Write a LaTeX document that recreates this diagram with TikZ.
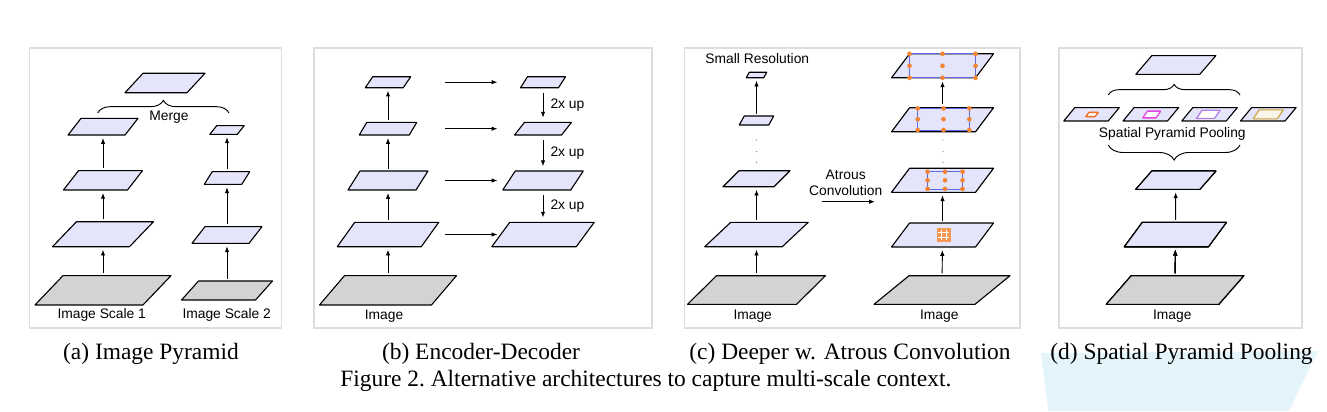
\documentclass[tikz,border=0pt]{standalone}
\usepackage{fontspec}
\setmainfont{Liberation Serif}
\setsansfont{Liberation Sans}
\usetikzlibrary{decorations.pathreplacing, arrows.meta}

\definecolor{fmfill}{RGB}{228,228,250}
\definecolor{imgfill}{RGB}{211,211,211}
\definecolor{dotorange}{RGB}{242,133,52}
\definecolor{rectblue}{RGB}{95,105,230}
\definecolor{framegray}{RGB}{221,221,221}
\definecolor{sppA}{RGB}{240,110,40}
\definecolor{sppB}{RGB}{228,70,225}
\definecolor{sppC}{RGB}{180,120,235}
\definecolor{sppD}{RGB}{205,160,50}
\definecolor{smear}{RGB}{228,244,251}

\newcommand{\px}{0.03cm}
% feature map: [style] name, x, y, width, height, slant
\newcommand{\featmap}[7][fm]{%
  \node[inner sep=0pt, outer sep=0pt, minimum width={#5*\px}, minimum height={#6*\px}] (#2) at (#3,#4) {};
  \draw[#1] ([xshift={-#7*\px/2}]#2.south west) -- ([xshift={-#7*\px/2}]#2.south east)
    -- ([xshift={#7*\px/2}]#2.north east) -- ([xshift={#7*\px/2}]#2.north west) -- cycle;
}

\begin{document}
\begin{tikzpicture}[x=0.03cm, y=-0.03cm, >={Latex[length=5pt,width=3.8pt]},
  fm/.style={draw=black, line width=0.95pt, fill=fmfill, line join=round},
  img/.style={fm, fill=imgfill},
  sppin/.style={draw=#1, line width=0.9pt, fill=white, line join=round},
  lbl/.style={font=\sffamily\fontsize{11.8}{13.7}\selectfont, inner sep=1pt},
  captxt/.style={font=\fontsize{20}{24}\selectfont, inner sep=1pt},
  panel/.style={draw=framegray, line width=1.3pt},
  up/.style={->, line width=0.8pt, shorten <=2pt, shorten >=2.5pt},
  grp/.style={decorate, decoration={brace, amplitude=#1}, line width=0.8pt},
  ratebox/.style={draw=rectblue, line width=0.6pt}]
\useasboundingbox (0,0) rectangle (1327,411);

% Quadros
\draw[panel] (29.5,48) rectangle (281.5,328);
\draw[panel] (314,48) rectangle (652,328);
\draw[panel] (684.5,48) rectangle (1020,328);
\draw[panel] (1059,48) rectangle (1302,328);

% (a) Image Pyramid
\featmap[img]{ia}{103}{290.3}{108}{29.3}{28}
\featmap{a3}{103}{234.2}{77}{25}{24}
\featmap{a2}{103}{180.3}{64}{19.3}{15}
\featmap{a1}{103}{126.7}{57}{16.7}{13}
\featmap[img]{ib}{227}{290.5}{74}{19}{17}
\featmap{b3}{227}{235}{57}{16.7}{13}
\featmap{b2}{227}{178}{37.5}{12.7}{8}
\featmap{b1}{227}{130}{27.5}{8.7}{7}
\featmap{ma}{165}{83}{62}{19.4}{18}
\draw[up] (ia) -- (a3);
\draw[up] (a3) -- (a2);
\draw[up] (a2) -- (a1);
\draw[up] (ib) -- (b3);
\draw[up] (b3) -- (b2);
\draw[up] (b2) -- (b1);
\coordinate (mgl) at (97.7,113);
\coordinate (mgr) at (229,113);
\draw[grp=0.38cm] (mgl) -- (mgr);
\node[lbl] (merge) at (169,117) {Merge};
\node[lbl] (sc1) at (101.7,315) {Image Scale 1};
\node[lbl] (sc2) at (226.7,315) {Image Scale 2};

% (b) Encoder-Decoder
\featmap[img]{ie}{388}{290.3}{112}{29.3}{25}
\featmap{e4}{388}{234.5}{84}{24.4}{17.5}
\featmap{e3}{388}{180.5}{68}{19}{12}
\featmap{e2}{388}{128.7}{50}{12.7}{7.5}
\featmap{e1}{388}{82.2}{38}{11}{7.5}
\featmap{d4}{543}{234.5}{84.5}{24.4}{18}
\featmap{d3}{543}{180.5}{68}{19}{12.5}
\featmap{d2}{543}{128.7}{47}{12.7}{10}
\featmap{d1}{543}{82.2}{38}{11}{7}
\draw[up] (ie) -- (e4);
\draw[up] (e4) -- (e3);
\draw[up] (e3) -- (e2);
\draw[up] (e2) -- (e1);
\coordinate (hx1) at (445,0);
\coordinate (hx2) at (497.5,0);
\foreach \k in {1,...,4}
  \draw[->, line width=0.8pt] (e\k -| hx1) -- (e\k -| hx2);
\draw[up, shorten <=4.5pt, shorten >=4pt] (d1) -- node[right=5pt, lbl] {2x up} (d2);
\draw[up, shorten <=4.5pt, shorten >=4pt] (d2) -- node[right=5pt, lbl] {2x up} (d3);
\draw[up, shorten <=4.5pt, shorten >=4pt] (d3) -- node[right=5pt, lbl] {2x up} (d4);
\node[lbl] (imb) at (384,315.7) {Image};

% (c) Deeper w. Atrous Convolution
\featmap[img]{ic}{756.5}{290}{109}{28.6}{29}
\featmap{c4}{756.5}{234.5}{77.5}{24.4}{26}
\featmap{c3}{756.5}{178.7}{51}{16}{16}
\featmap{c2}{756.5}{120.5}{29.5}{9}{5}
\featmap{c1}{756.5}{75}{17.5}{5.4}{3}
\draw[up] (ic) -- (c4);
\draw[up] (c4) -- (c3);
\draw[up] (c2) -- (c1);
\node[lbl] (small) at (757.3,59) {Small Resolution};
\node[lbl] (imc) at (752.7,315.7) {Image};
\featmap[img]{id}{942}{290}{101}{28.6}{35}
\featmap{r4}{942.5}{235}{84}{24}{18}
\featmap{r3}{942.5}{180.3}{84}{24}{18}
\featmap{r2}{942.5}{119.8}{84}{24}{18}
\featmap{r1}{942.5}{65.8}{84}{24}{18}
\draw[up] (id) -- (r4);
\draw[up] (r4) -- (r3);
\draw[up, shorten <=3pt, shorten >=3pt] (r2) -- (r1);
\foreach \x in {756.5,943}
  \foreach \y in {140,151.7,162.3}
    \fill[gray] (\x,\y) circle (0.6pt);
% taxas de dilatacao
\foreach \cx/\cy/\hw/\hh in {942.5/65.8/33/12, 943.5/119.2/25.8/10.8, 945/180.3/17.5/8.6}{
  \draw[ratebox] (\cx-\hw,\cy-\hh) rectangle (\cx+\hw,\cy+\hh);
  \foreach \i in {-1,0,1}
    \foreach \j in {-1,0,1}
      \fill[dotorange] (\cx+\i*\hw,\cy+\j*\hh) circle (2pt);
}
\fill[dotorange!85] (936.7,228.3) rectangle (950.7,241.7);
\foreach \t in {941.4,946}
  \draw[white, line width=0.6pt] (\t,229.6) -- (\t,240.4);
\foreach \t in {232.8,237.2}
  \draw[white, line width=0.6pt] (938,\t) -- (949.4,\t);
\coordinate (ca) at (821.7,201.7);
\coordinate (cb) at (875,201.7);
\draw[->, line width=0.8pt] (ca) -- (cb);
\node[lbl, align=center] (atr) at (845.7,183) {Atrous\\Convolution};
\node[lbl] (imd) at (939.3,315.7) {Image};

% (d) Spatial Pyramid Pooling
\featmap{sp}{1175.8}{65}{64}{18.7}{16}
\foreach \k/\x in {1/1091.5, 2/1150.8, 3/1209.5, 4/1268.3}
  \featmap{p\k}{\x}{114.3}{44.5}{13.3}{11}
\featmap[sppin=sppA]{pin1}{1092}{114.5}{9}{4}{3}
\featmap[sppin=sppB]{pin2}{1151.7}{114.5}{13}{6.5}{4.5}
\featmap[sppin=sppC]{pin3}{1208.3}{114.3}{18}{8}{5.5}
\featmap[sppin=sppD, fill=sppD!10]{pin4}{1268.3}{114.3}{24}{9}{6}
\featmap{q1}{1175.8}{180.2}{64}{18.3}{16}
\featmap{q2}{1175.4}{234.5}{84}{24.4}{18}
\featmap[img]{ig}{1175}{290}{112.5}{28.6}{25}
\draw[up] (ig) -- (q2);
\draw[up] (q2) -- (q1);
\coordinate (bl1) at (1108.3,95);
\coordinate (br1) at (1240,95);
\coordinate (bl2) at (1108.3,145);
\coordinate (br2) at (1240,145);
\draw[grp=0.32cm] (bl1) -- (br1);
\draw[grp=0.45cm] (br2) -- (bl2);
\node[lbl] (spp) at (1172.3,134.3) {Spatial Pyramid Pooling};
\node[lbl] (imf) at (1172.3,315.7) {Image};

% Legendas
\fill[smear] (1040.7,353) -- (1318,351) -- (1289,411) -- (1048.5,411) -- cycle;
\node[captxt] (capa) at (151,354) {(a) Image Pyramid};
\node[captxt] (capb) at (481,354) {(b) Encoder-Decoder};
\node[captxt] (capc) at (850,354) {(c) Deeper w. Atrous Convolution};
\node[captxt] (capd) at (1181.5,354) {(d) Spatial Pyramid Pooling};
\node[captxt] (fig) at (645.8,381) {Figure 2.\ Alternative architectures to capture multi-scale context.};
\end{tikzpicture}
\end{document}
